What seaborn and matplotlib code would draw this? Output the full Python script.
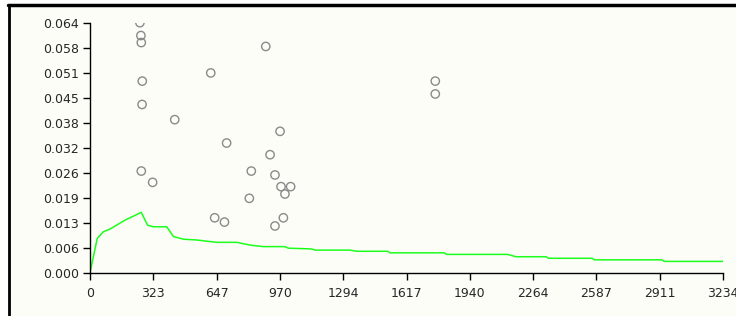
import numpy as np
import pandas as pd
import matplotlib.pyplot as plt
import seaborn as sns
from matplotlib.patches import Rectangle
from matplotlib.lines import Line2D

# scatter points (open circles)
pt_x = [255, 260, 262, 267, 266, 262, 320, 433, 617, 637, 687, 698,
        814, 824, 898, 920, 945, 945, 971, 976, 988, 996, 1025, 1764, 1764]
pt_y = [0.0642, 0.0609, 0.0591, 0.0492, 0.0432, 0.0261, 0.0232, 0.0393, 0.0513, 0.0141, 0.0130, 0.0333,
        0.0191, 0.0261, 0.0581, 0.0303, 0.0251, 0.0120, 0.0363, 0.0221, 0.0141, 0.0202, 0.0221, 0.0492, 0.0459]

# green curve
ln_x = [0, 37, 68, 102, 179, 262, 294, 323, 392, 426, 477, 545, 647, 750, 817, 885, 996,
        1013, 1132, 1150, 1328, 1362, 1521, 1533, 1810, 1822, 2134, 2176, 2330, 2343,
        2565, 2577, 2922, 2934, 3234]
ln_y = [0.0, 0.0088, 0.0105, 0.0112, 0.0135, 0.0155, 0.0122, 0.0118, 0.0118, 0.0093, 0.0086,
        0.0084, 0.0078, 0.0078, 0.0071, 0.0067, 0.0067, 0.0063, 0.0061, 0.0058, 0.0058, 0.0055,
        0.0055, 0.0051, 0.0051, 0.0047, 0.0047, 0.0041, 0.0041, 0.0037, 0.0037, 0.0033, 0.0033,
        0.0029, 0.0029]

x_max = 3234
y_max = 0.0642
x_ticks = [x_max * k / 10 for k in range(11)]
y_ticks = [y_max * k / 10 for k in range(11)]
x_labels = ["0", "323", "647", "970", "1294", "1617", "1940", "2264", "2587", "2911", "3234"]
y_labels = ["0.000", "0.006", "0.013", "0.019", "0.026", "0.032", "0.038", "0.045", "0.051", "0.058", "0.064"]

bg = "#fdfdf8"
W, H = 736, 316

sns.set_style("white")
plt.rcParams["font.family"] = ["DejaVu Sans"]

fig = plt.figure(figsize=(W / 100, H / 100), dpi=100)
fig.patch.set_facecolor("white")

# cream panel with black left and top borders
fig.patches.append(Rectangle((8 / W, 0), 1, 1 - 5 / H, transform=fig.transFigure,
                             facecolor=bg, edgecolor="none", zorder=-10))
fig.lines.append(Line2D([8.5 / W, 8.5 / W], [0, 1 - 5 / H], transform=fig.transFigure,
                        color="black", lw=2, zorder=-5))
fig.lines.append(Line2D([8 / W, 1], [1 - 5 / H, 1 - 5 / H], transform=fig.transFigure,
                        color="black", lw=2.5, zorder=-5))

ax = fig.add_axes([90 / W, 1 - 272.7 / H, (723 - 90) / W, (272.7 - 22.7) / H])
ax.set_facecolor("none")

pts = pd.DataFrame({"x": pt_x, "y": pt_y})
curve = pd.DataFrame({"x": ln_x, "y": ln_y})

sns.lineplot(data=curve, x="x", y="y", ax=ax, color="#1cff1c", lw=1.1, zorder=2)
sns.scatterplot(data=pts, x="x", y="y", ax=ax, s=36, facecolors="none",
                edgecolor="#8a8a8a", linewidth=1, marker="o", zorder=3)

ax.set_xlim(0, x_max)
ax.set_ylim(0, y_max)
ax.set_xticks(x_ticks)
ax.set_xticklabels(x_labels)
ax.set_yticks(y_ticks)
ax.set_yticklabels(y_labels)
ax.set_xlabel("")
ax.set_ylabel("")
for s in ["top", "right"]:
    ax.spines[s].set_visible(False)
for s in ["left", "bottom"]:
    ax.spines[s].set_color("black")
    ax.spines[s].set_linewidth(1)
ax.tick_params(axis="both", direction="out", length=5, width=1, color="black",
               labelsize=9, pad=3, left=True, bottom=True)
ax.tick_params(axis="x", pad=5)

fig.savefig("out.png", dpi=100)
